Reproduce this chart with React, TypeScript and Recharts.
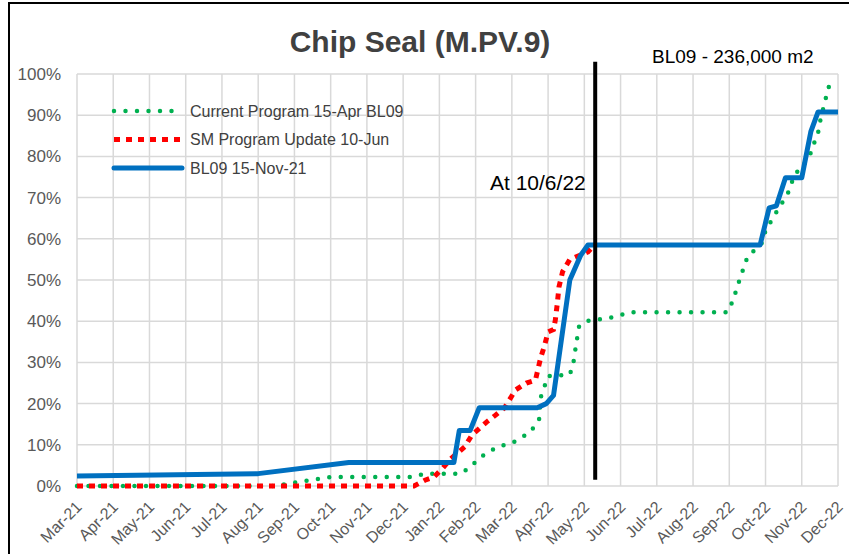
import React from "react";
import {
  LineChart,
  Line,
  XAxis,
  YAxis,
  CartesianGrid,
  ReferenceLine,
} from "recharts";

const MONTHS = [
  "Mar-21", "Apr-21", "May-21", "Jun-21", "Jul-21", "Aug-21", "Sep-21",
  "Oct-21", "Nov-21", "Dec-21", "Jan-22", "Feb-22", "Mar-22", "Apr-22",
  "May-22", "Jun-22", "Jul-22", "Aug-22", "Sep-22", "Oct-22", "Nov-22", "Dec-22",
];
const Y_TICKS = [0, 10, 20, 30, 40, 50, 60, 70, 80, 90, 100];

// month index (0 = Mar-21) and % complete
const currentProgram = [
  { m: 0, v: 0 }, { m: 5.5, v: 0 }, { m: 6, v: 0.8 }, { m: 7, v: 2.2 },
  { m: 9.3, v: 2.2 }, { m: 9.6, v: 3 }, { m: 10.6, v: 3 }, { m: 10.9, v: 5 },
  { m: 11.1, v: 6.8 }, { m: 11.6, v: 9.5 }, { m: 12, v: 10.4 }, { m: 12.5, v: 13 },
  { m: 12.75, v: 16 }, { m: 12.8, v: 21.6 }, { m: 13, v: 26.7 }, { m: 13.6, v: 27 },
  { m: 13.7, v: 30 }, { m: 13.75, v: 33 }, { m: 13.85, v: 38.6 }, { m: 14.05, v: 40 },
  { m: 14.7, v: 40.8 }, { m: 15.3, v: 42.2 }, { m: 17.95, v: 42.2 }, { m: 18.1, v: 45 },
  { m: 18.3, v: 50.5 }, { m: 18.4, v: 53 }, { m: 18.5, v: 55.6 }, { m: 18.9, v: 59 },
  { m: 19.0, v: 62 }, { m: 19.4, v: 68 }, { m: 19.6, v: 70.6 }, { m: 19.8, v: 75.5 },
  { m: 20.2, v: 79.6 }, { m: 20.3, v: 82.3 }, { m: 20.45, v: 85.7 }, { m: 20.5, v: 88.3 },
  { m: 20.65, v: 93.7 }, { m: 20.75, v: 97 },
];

const smUpdate = [
  { m: 0, v: 0 }, { m: 9.3, v: 0 }, { m: 9.6, v: 1.4 }, { m: 9.85, v: 2.2 },
  { m: 10.1, v: 4.4 }, { m: 10.3, v: 6.5 }, { m: 10.7, v: 9.5 }, { m: 10.9, v: 12.4 },
  { m: 11.3, v: 15.5 }, { m: 11.55, v: 17.2 }, { m: 11.8, v: 19 }, { m: 12.1, v: 23.3 },
  { m: 12.4, v: 25 }, { m: 12.65, v: 25.7 }, { m: 12.8, v: 31.3 }, { m: 12.9, v: 34 },
  { m: 13.0, v: 37.4 }, { m: 13.15, v: 38 }, { m: 13.2, v: 40.3 }, { m: 13.25, v: 44 },
  { m: 13.3, v: 48.3 }, { m: 13.4, v: 52 }, { m: 13.6, v: 55 }, { m: 14.1, v: 56.8 },
  { m: 14.2, v: 57.8 },
];

const bl09 = [
  { m: 0, v: 2.4 }, { m: 5, v: 3 }, { m: 7.5, v: 5.7 }, { m: 10.4, v: 5.7 },
  { m: 10.55, v: 13.5 }, { m: 10.85, v: 13.5 }, { m: 11.1, v: 19 }, { m: 12.7, v: 19 },
  { m: 12.95, v: 20 }, { m: 13.15, v: 22 }, { m: 13.6, v: 50 }, { m: 13.9, v: 56 },
  { m: 14.1, v: 58.5 }, { m: 18.85, v: 58.5 }, { m: 19.1, v: 67.5 }, { m: 19.3, v: 68 },
  { m: 19.55, v: 74.8 }, { m: 20.0, v: 74.8 }, { m: 20.25, v: 86 }, { m: 20.45, v: 90.8 },
  { m: 21, v: 90.8 },
];

const CUTOFF = 14.3;

const FONT = '"Liberation Sans", Arial, sans-serif';

const MonthTick = ({ x, y, payload }: any) => (
  <text
    x={x + 2}
    y={y + 10}
    transform={`rotate(-45, ${x + 2}, ${y + 10})`}
    textAnchor="end"
    dominantBaseline="central"
    fontSize={16}
    fill="#595959"
    fontFamily={FONT}
  >
    {MONTHS[payload.value]}
  </text>
);

const LEGEND = [
  { label: "Current Program 15-Apr BL09", color: "#00b050", dash: "0 11.5", cap: "round", w: 4.5 },
  { label: "SM Program Update 10-Jun", color: "#ff0000", dash: "6 6", cap: "butt", w: 5 },
  { label: "BL09 15-Nov-21", color: "#0070c0", dash: undefined, cap: "round", w: 5 },
];

const LegendBox = () => (
  <svg
    width={320}
    height={90}
    style={{ position: "absolute", left: 110, top: 101, overflow: "visible" }}
  >
    {LEGEND.map((r, i) => (
      <g key={r.label}>
        <line
          x1={4}
          x2={72}
          y1={10 + i * 28.5}
          y2={10 + i * 28.5}
          stroke={r.color}
          strokeWidth={r.w}
          strokeDasharray={r.dash}
          strokeLinecap={r.cap as any}
        />
        <text
          x={80}
          y={10 + i * 28.5}
          dominantBaseline="central"
          fontSize={16}
          fill="#404040"
          fontFamily={FONT}
        >
          {r.label}
        </text>
      </g>
    ))}
  </svg>
);

export default function App() {
  return (
    <div
      style={{
        position: "absolute",
        left: 0,
        top: 0,
        width: 849,
        height: 554,
        overflow: "hidden",
        background: "#fff",
        fontFamily: FONT,
      }}
    >
      <div
        style={{
          position: "absolute",
          left: 8,
          top: 2,
          width: 900,
          height: 600,
          border: "2px solid #000",
        }}
      />
      <LineChart
        width={849}
        height={554}
        margin={{ top: 74, right: 11, bottom: 8, left: 17 }}
        style={{ position: "absolute", left: 0, top: 0 }}
      >
        <CartesianGrid stroke="#d9d9d9" strokeWidth={1.5} />
        <XAxis
          type="number"
          dataKey="m"
          domain={[0, 21]}
          ticks={MONTHS.map((_, i) => i)}
          interval={0}
          axisLine={false}
          tickLine={false}
          height={60}
          tick={<MonthTick />}
        />
        <YAxis
          type="number"
          domain={[0, 100]}
          ticks={Y_TICKS}
          tickFormatter={(v: number) => `${v}%`}
          axisLine={false}
          tickLine={false}
          tickMargin={10}
          width={60}
          tick={{ fontSize: 17, fill: "#595959", fontFamily: FONT }}
        />
        <Line
          data={currentProgram}
          dataKey="v"
          name="Current Program 15-Apr BL09"
          stroke="#00b050"
          strokeWidth={4.5}
          strokeDasharray="0 11.5"
          strokeLinecap="round"
          dot={false}
          type="linear"
          isAnimationActive={false}
        />
        <Line
          data={smUpdate}
          dataKey="v"
          name="SM Program Update 10-Jun"
          stroke="#ff0000"
          strokeWidth={5}
          strokeDasharray="6 6"
          dot={false}
          type="linear"
          isAnimationActive={false}
        />
        <Line
          data={bl09}
          dataKey="v"
          name="BL09 15-Nov-21"
          stroke="#0070c0"
          strokeWidth={5}
          strokeLinejoin="round"
          dot={false}
          type="linear"
          isAnimationActive={false}
        />
        <ReferenceLine
          segment={[
            { x: CUTOFF, y: 1.5 },
            { x: CUTOFF, y: 103 },
          ]}
          stroke="#000"
          strokeWidth={4}
          ifOverflow="visible"
        />
      </LineChart>
      <LegendBox />
      <div
        style={{
          position: "absolute",
          left: 0,
          width: 840,
          top: 27,
          lineHeight: 1,
          textAlign: "center",
          fontSize: 30,
          fontWeight: "bold",
          color: "#404040",
        }}
      >
        Chip Seal (M.PV.9)
      </div>
      <div
        style={{
          position: "absolute",
          left: 652,
          top: 47,
          lineHeight: 1,
          fontSize: 19,
          color: "#000",
          whiteSpace: "nowrap",
        }}
      >
        BL09 - 236,000 m2
      </div>
      <div
        style={{
          position: "absolute",
          left: 490,
          top: 172,
          lineHeight: 1,
          fontSize: 21,
          color: "#000",
          whiteSpace: "nowrap",
        }}
      >
        At 10/6/22
      </div>
    </div>
  );
}
